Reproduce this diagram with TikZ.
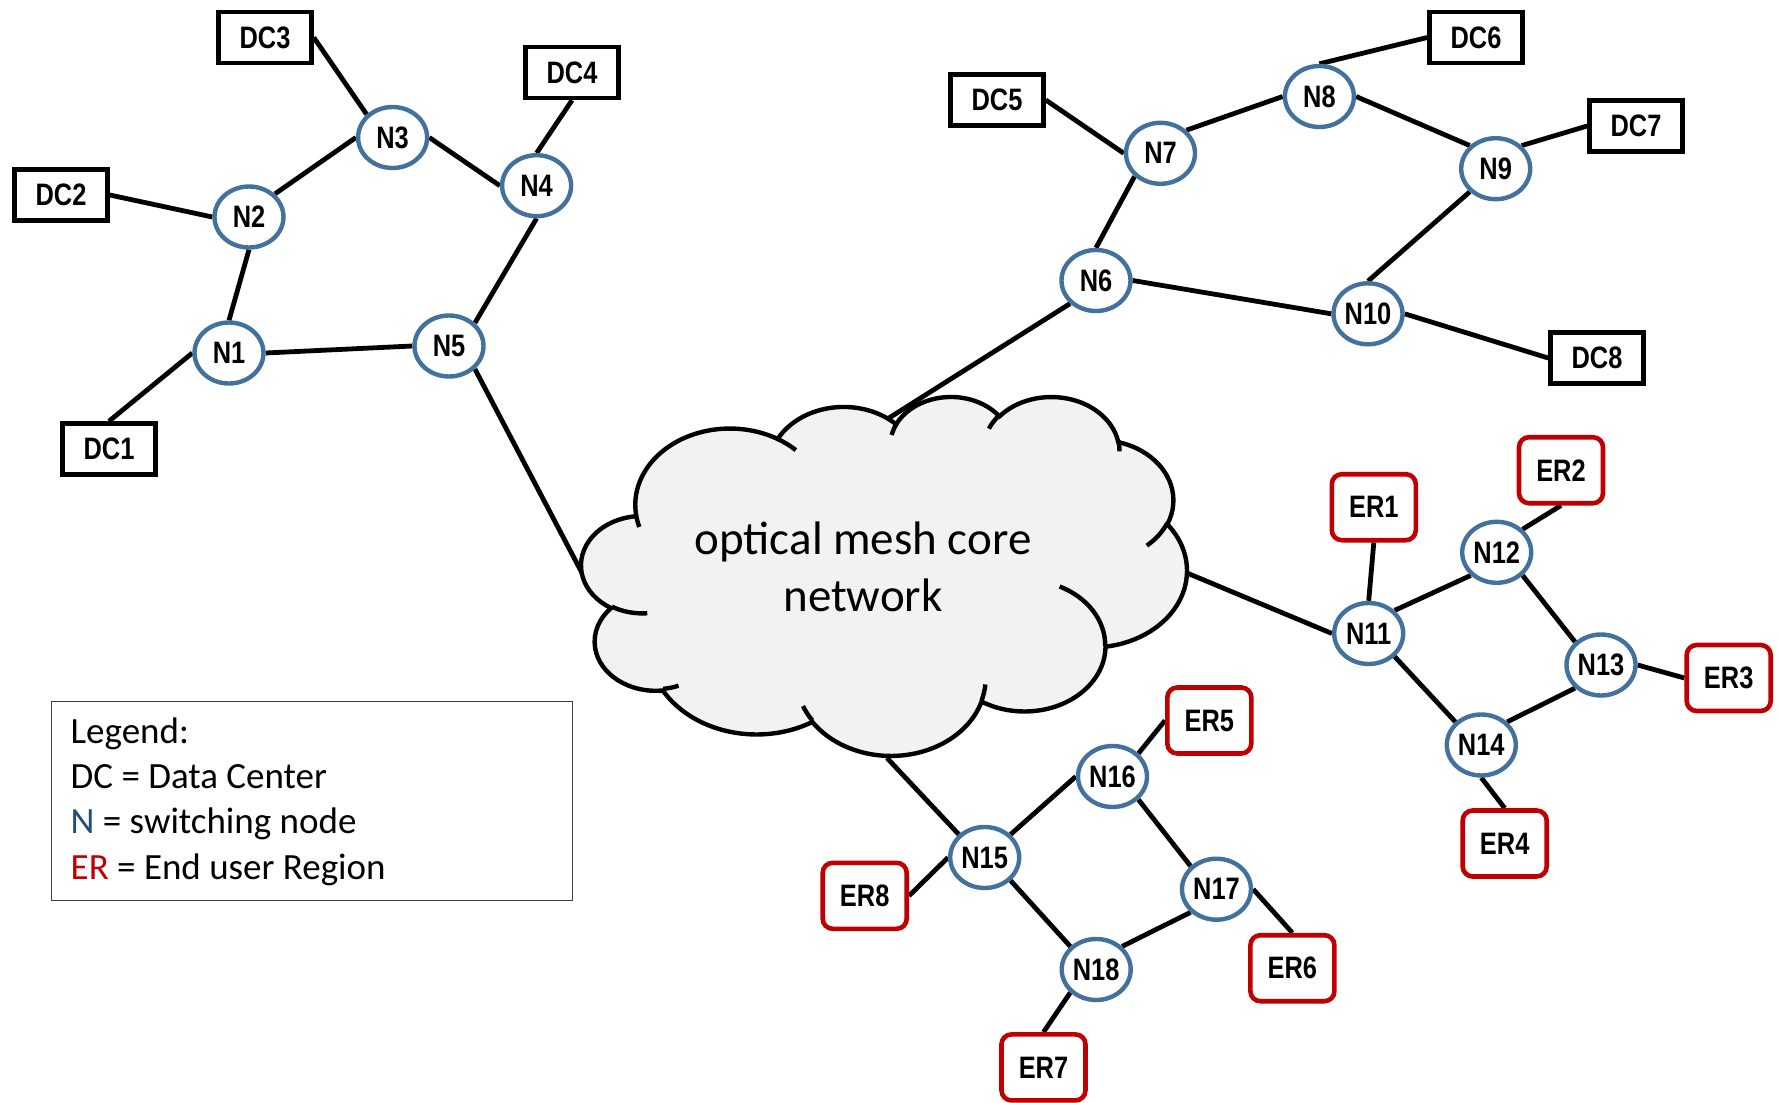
\documentclass[tikz,border=0pt]{standalone}
\usepackage{fontspec}
\setmainfont{Carlito}
\newfontfamily\labelfont[FakeStretch=0.82]{Liberation Sans}
\usetikzlibrary{shapes.geometric,backgrounds}
\definecolor{ringblue}{HTML}{41719C}
\definecolor{legblue}{HTML}{1F4E79}
\definecolor{erred}{HTML}{C00000}
\definecolor{cloudgray}{HTML}{F2F2F2}

\begin{document}
\begin{tikzpicture}[
  x=0.5pt, y=-0.5pt,
  swnode/.style={ellipse, draw=ringblue, line width=2.2pt, fill=white, minimum width=34.5pt, minimum height=30.5pt, inner sep=0pt, font=\labelfont\bfseries\fontsize{15.5}{18}\selectfont},
  dcbox/.style={draw, line width=2.3pt, fill=white, minimum width=46.5pt, minimum height=25.5pt, inner sep=0pt, font=\labelfont\bfseries\fontsize{15.5}{18}\selectfont},
  erbox/.style={draw=erred, line width=2.3pt, rounded corners=5pt, fill=white, minimum width=42pt, minimum height=33pt, inner sep=0pt, font=\labelfont\bfseries\fontsize{15.5}{18}\selectfont},
  link/.style={line width=2.4pt}
]
\useasboundingbox (0,0) rectangle (1779,1103);

% core cloud
\begin{scope}[shift={(581.5,395.8)}, x=0.7005pt, y=-0.41535pt, line width=2.2pt]
\filldraw[fill=cloudgray] (39,143.7)
  arc[start angle=172.25, delta angle=128.11, x radius=67.53, y radius=91.9]
  arc[start angle=-152.04, delta angle=106.61, x radius=53.33, y radius=72.67]
  arc[start angle=-153.49, delta angle=116.15, x radius=43.65, y radius=59.45]
  arc[start angle=-139.7, delta angle=129.49, x radius=48.57, y radius=65.95]
  arc[start angle=-74.77, delta angle=97.98, x radius=53.33, y radius=72.73]
  arc[start angle=-37.51, delta angle=119.37, x radius=67.75, y radius=92.2]
  arc[start angle=0.46, delta angle=121.52, x radius=57.85, y radius=78.67]
  arc[start angle=16.84, delta angle=129.39, x radius=67.52, y radius=92.15]
  arc[start angle=58.98, delta angle=91.2, x radius=77.2, y radius=105.43]
  arc[start angle=83.31, delta angle=139.79, x radius=43.6, y radius=59.18]
  arc[start angle=120.36, delta angle=143.75, x radius=43.45, y radius=59.45]
  -- cycle;
\draw (46.93,261.77) arc[start angle=85.55, delta angle=34.81, x radius=43.45, y radius=59.45]
  (69.28,348.99) arc[start angle=68.24, delta angle=15.07, x radius=43.6, y radius=59.18]
  (164.78,390.9) arc[start angle=146.23, delta angle=12.24, x radius=67.52, y radius=92.15]
  (288.27,347.51) arc[start angle=4.74, delta angle=12.1, x radius=67.52, y radius=92.15]
  (341.29,229.54) arc[start angle=-64.03, delta angle=64.49, x radius=57.85, y radius=78.67]
  (417.98,153.54) arc[start angle=23.21, delta angle=26.43, x radius=53.33, y radius=72.73]
  (383.24,54.26) arc[start angle=-10.21, delta angle=11.03, x radius=48.57, y radius=65.95]
  (290.78,39.52) arc[start angle=-156.29, delta angle=16.59, x radius=48.57, y radius=65.95]
  (221.41,47.2) arc[start angle=-167.73, delta angle=14.24, x radius=43.65, y radius=59.45]
  (140,51.92) arc[start angle=-59.64, delta angle=13.89, x radius=67.53, y radius=91.9]
  (41.27,157.89) arc[start angle=163.19, delta angle=9.06, x radius=67.53, y radius=91.9];
\end{scope}
\node[font=\fontsize{23.5}{28.3}\selectfont, align=center, inner sep=0pt] (core) at (863,567) {optical mesh core\\network};
\coordinate (cl-w) at (582,573);
\coordinate (cl-n) at (889,418);
\coordinate (cl-e) at (1187,573);
\coordinate (cl-s) at (887,758);

\node[dcbox] (dc1) at (109,449) {DC1};
\node[dcbox] (dc2) at (61,195) {DC2};
\node[dcbox] (dc3) at (265,37.5) {DC3};
\node[dcbox] (dc4) at (572,72.5) {DC4};
\node[dcbox] (dc5) at (997,100) {DC5};
\node[dcbox] (dc6) at (1476,37.5) {DC6};
\node[dcbox] (dc7) at (1636,126) {DC7};
\node[dcbox] (dc8) at (1597,358) {DC8};

\node[swnode] (n1) at (229,353) {N1};
\node[swnode] (n2) at (249,217) {N2};
\node[swnode] (n3) at (392.6,137.5) {N3};
\node[swnode] (n4) at (536.6,185.7) {N4};
\node[swnode] (n5) at (449,346) {N5};
\node[swnode] (n6) at (1096,280.5) {N6};
\node[swnode] (n7) at (1160.5,153.3) {N7};
\node[swnode] (n8) at (1319.4,96.5) {N8};
\node[swnode] (n9) at (1495.7,168.7) {N9};
\node[swnode] (n10) at (1368,313.8) {N10};
\node[swnode] (n11) at (1368.7,633.5) {N11};
\node[swnode] (n12) at (1496.7,552.3) {N12};
\node[swnode] (n13) at (1601,665) {N13};
\node[swnode] (n14) at (1481.3,745) {N14};
\node[swnode] (n15) at (984.7,857.5) {N15};
\node[swnode] (n16) at (1112.5,776.5) {N16};
\node[swnode] (n17) at (1216.5,889.2) {N17};
\node[swnode] (n18) at (1096.2,969.5) {N18};

\node[erbox] (er1) at (1373.8,507.2) {ER1};
\node[erbox] (er2) at (1561,470.2) {ER2};
\node[erbox] (er3) at (1728.7,678) {ER3};
\node[erbox] (er4) at (1504.7,843.5) {ER4};
\node[erbox] (er5) at (1209.3,720.5) {ER5};
\node[erbox] (er6) at (1292.4,968.2) {ER6};
\node[erbox] (er7) at (1043.5,1067.4) {ER7};
\node[erbox] (er8) at (864.7,895.8) {ER8};

\begin{scope}[on background layer]
\draw[link] (dc3.east) -- (n3.north west);
\draw[link] (dc4.south) -- (n4.north);
\draw[link] (dc2.east) -- (n2.west);
\draw[link] (dc1.north) -- (n1.west);
\draw[link] (n2.north east) -- (n3.west);
\draw[link] (n3.east) -- (n4.west);
\draw[link] (n2.south) -- (n1.north);
\draw[link] (n1.east) -- (n5.west);
\draw[link] (n4.south) -- (n5.north east);
\draw[link] (n5.south east) -- (cl-w);
\draw[link] (dc5.east) -- (n7.west);
\draw[link] (dc6.west) -- (n8.north);
\draw[link] (dc7.west) -- (n9.north east);
\draw[link] (dc8.west) -- (n10.east);
\draw[link] (n7.north east) -- (n8.west);
\draw[link] (n8.east) -- (n9.north west);
\draw[link] (n7.south west) -- (n6.north);
\draw[link] (n6.east) -- (n10.west);
\draw[link] (n9.south west) -- (n10.north);
\draw[link] (n6.south west) -- (cl-n);
\draw[link] (cl-e) -- (n11.west);
\draw[link] (er1.south) -- (n11.north);
\draw[link] (n11.north east) -- (n12.south west);
\draw[link] (n12.north east) -- (er2.south);
\draw[link] (n12.south east) -- (n13.north west);
\draw[link] (n13.east) -- (er3.west);
\draw[link] (n11.south east) -- (n14.north west);
\draw[link] (n14.north east) -- (n13.south west);
\draw[link] (n14.south) -- (er4.north);
\draw[link] (cl-s) -- (n15.north west);
\draw[link] (er8.east) -- (n15.west);
\draw[link] (n15.north east) -- (n16.west);
\draw[link] (n16.north east) -- (er5.west);
\draw[link] (n16.south east) -- (n17.north west);
\draw[link] (n17.east) -- (er6.north);
\draw[link] (n15.south east) -- (n18.north west);
\draw[link] (n18.north east) -- (n17.south west);
\draw[link] (n18.south west) -- (er7.north);
\end{scope}

\node[draw=black!75, line width=0.6pt, minimum width=260.75pt, minimum height=99.75pt, anchor=north west, inner sep=0pt] (legend) at (50.5,700.5) {};
\node[anchor=north west, align=left, inner sep=0pt, font=\fontsize{18.5}{22.7}\selectfont] (legendtext) at (70.3,717) {Legend:\\DC = Data Center\\\textcolor{legblue}{N} = switching node\\\textcolor{erred}{ER} = End user Region};
\end{tikzpicture}
\end{document}
